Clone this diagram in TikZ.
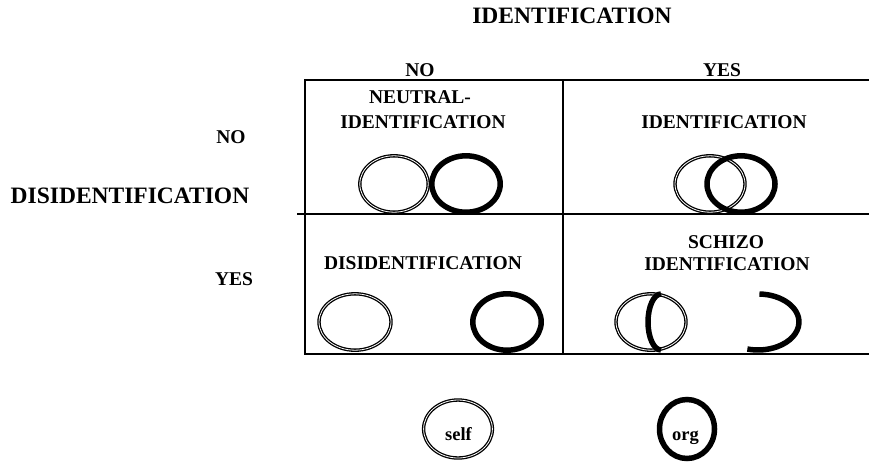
\documentclass[tikz,border=0pt]{standalone}
\usepackage{fontspec}
\setmainfont{Liberation Serif}
\usetikzlibrary{shapes.geometric}
\begin{document}
\begin{tikzpicture}[x=1pt,y=-1pt,
  lbl/.style={font=\bfseries\fontsize{19.5}{20}\selectfont, inner sep=0pt, anchor=base},
  big/.style={font=\bfseries\fontsize{23.5}{24}\selectfont, inner sep=0pt, anchor=base},
  keytxt/.style={font=\bfseries\fontsize{18.5}{19}\selectfont, inner sep=0pt, anchor=base},
  gridline/.style={line width=1.6pt},
  selfring/.style={draw, double, line width=1.3pt, double distance=0.8pt},
  orgring/.style={draw, line width=5.5pt}]
\useasboundingbox (0,0) rectangle (869,463);

% title and headers
\node[big] (title) at (572,23) {IDENTIFICATION};
\node[lbl] (colno) at (420,76) {NO};
\node[lbl] (colyes) at (722,76) {YES};
\node[lbl] (rowno) at (231,143) {NO};
\node[big] (rowtitle) at (130,203) {DISIDENTIFICATION};
\node[lbl] (rowyes) at (234,285) {YES};

% grid
\coordinate (tl) at (305,80);
\coordinate (tr) at (869,80);
\coordinate (bl) at (305,354);
\coordinate (br) at (869,354);
\coordinate (ml) at (297,214);
\coordinate (mr) at (869,214);
\coordinate (dt) at (563,80);
\coordinate (db) at (563,354);
\draw[gridline] (tr) -- (tl) -- (bl) -- (br);
\draw[gridline] (ml) -- (mr);
\draw[gridline] (dt) -- (db);

% cell labels
\node[lbl] (nl1) at (420,103) {NEUTRAL-};
\node[lbl] (nl2) at (423,128) {IDENTIFICATION};
\node[lbl] (idl) at (724,128) {IDENTIFICATION};
\node[lbl] (disl) at (423,269) {DISIDENTIFICATION};
\node[lbl] (sch1) at (726,248) {SCHIZO};
\node[lbl] (sch2) at (727,270) {IDENTIFICATION};

% neutral identification
\draw[selfring] (394,184) ellipse [x radius=34.2, y radius=28.2];
\draw[orgring] (466,184) ellipse [x radius=34.2, y radius=28.2];
% identification
\draw[selfring] (710,184) ellipse [x radius=35, y radius=28.2];
\draw[orgring] (741,184) ellipse [x radius=34, y radius=28.2];
% disidentification
\draw[selfring] (355,322) ellipse [x radius=36, y radius=28.2];
\draw[orgring] (507,322) ellipse [x radius=34.2, y radius=28.2];
% schizo identification
\draw[selfring] (651,322) ellipse [x radius=35, y radius=28.2];
\draw[orgring] (661,294) arc[start angle=270, end angle=90, x radius=13, y radius=28];
\draw[orgring] (759.4,294) arc[start angle=272, end angle=465, x radius=41, y radius=28];

% key
\node[selfring, ellipse, minimum width=68.8pt, minimum height=58pt, inner sep=0pt] (selfkey) at (458,429) {};
\node[keytxt] (selftxt) at (458.5,440) {self};
\node[orgring, ellipse, minimum width=55pt, minimum height=59pt, inner sep=0pt] (orgkey) at (687,429) {};
\node[keytxt] (orgtxt) at (685.5,440) {org};
\end{tikzpicture}
\end{document}
